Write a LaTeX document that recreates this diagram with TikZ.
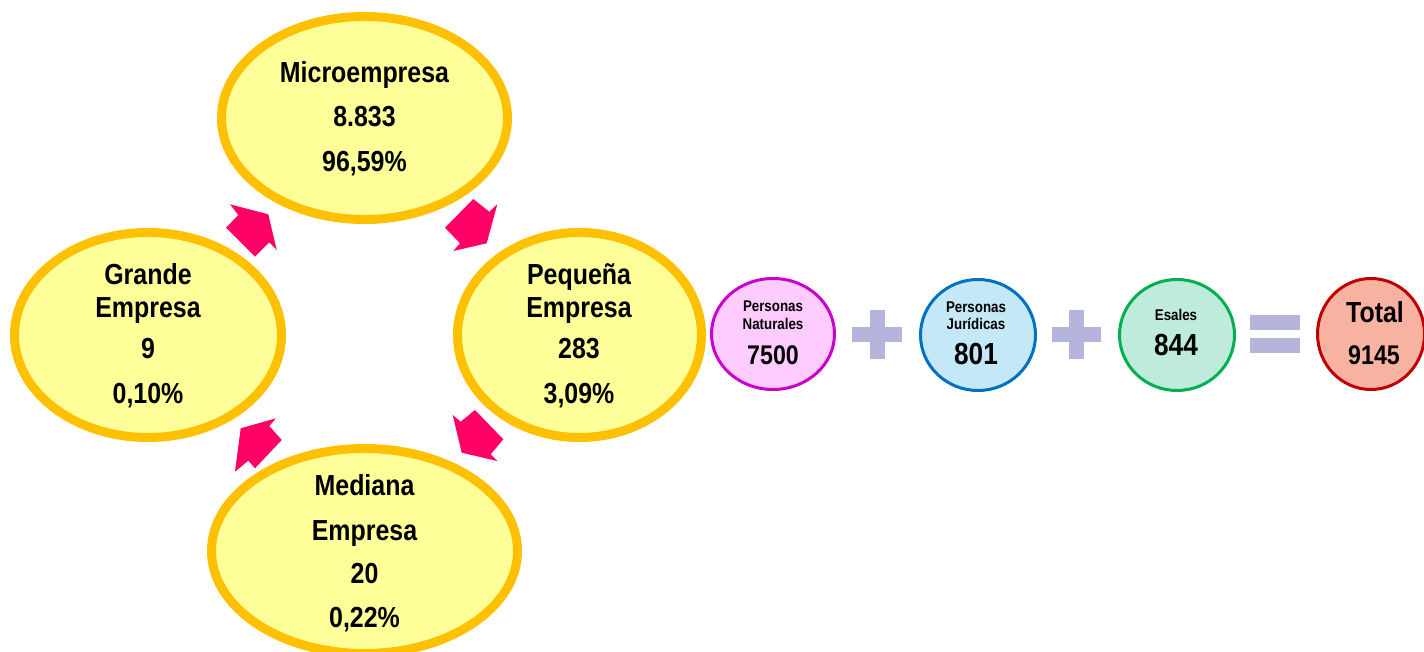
\documentclass[tikz,border=0pt]{standalone}
\usepackage{fontspec}
\newfontfamily\lbl{Liberation Sans}[FakeStretch=0.86]
\usetikzlibrary{shapes.geometric}
\definecolor{yfill}{HTML}{FFFF99}
\definecolor{yline}{HTML}{FFC000}
\definecolor{arr}{HTML}{FF0066}
\definecolor{pfill}{HTML}{FFCCFF}
\definecolor{pline}{HTML}{CC00CC}
\definecolor{bfill}{HTML}{C4E8F8}
\definecolor{bline}{HTML}{0070C0}
\definecolor{gfill}{HTML}{BFEBDD}
\definecolor{gline}{HTML}{00B050}
\definecolor{tfill}{HTML}{F8B2A2}
\definecolor{tline}{HTML}{C00000}
\definecolor{lav}{HTML}{B4B4DC}
\tikzset{
  yell/.style={ellipse, draw=yline, fill=yfill, line width=9pt, inner sep=0pt, outer sep=0pt},
  small/.style={ellipse, line width=3pt, inner sep=0pt, outer sep=0pt},
  big/.style={font=\lbl\bfseries\fontsize{29}{29}\selectfont, anchor=base, inner sep=0pt},
  tiny/.style={font=\lbl\bfseries\fontsize{15.5}{15.5}\selectfont, anchor=base, inner sep=0pt},
  blockarrow/.style={fill=arr},
  opsign/.style={fill=lav}
}
\begin{document}
\begin{tikzpicture}[x=1pt,y=-1pt]
\useasboundingbox (0,0) rectangle (1424,652);
% big ellipses
\node[yell, minimum width=286pt, minimum height=203pt] (micro) at (364.5,118) {};
\node[yell, minimum width=267pt, minimum height=205pt] (grande) at (148,335) {};
\node[yell, minimum width=244pt, minimum height=205pt] (peq) at (579.5,335) {};
\node[yell, minimum width=306pt, minimum height=205pt] (med) at (364.5,551) {};
% texts
\node[big] (m1) at (364.5,83) {Microempresa};
\node[big] (m2) at (364.5,127) {8.833};
\node[big] (m3) at (364.5,172) {96,59\%};
\node[big] (g1) at (148,285) {Grande};
\node[big] (g2) at (148,317) {Empresa};
\node[big] (g3) at (148,358) {9};
\node[big] (g4) at (148,403) {0,10\%};
\node[big] (p1) at (579,285) {Pequeña};
\node[big] (p2) at (579,317) {Empresa};
\node[big] (p3) at (579,358) {283};
\node[big] (p4) at (579,403) {3,09\%};
\node[big] (d1) at (364.5,495) {Mediana};
\node[big] (d2) at (364.5,540) {Empresa};
\node[big] (d3) at (364.5,583) {20};
\node[big] (d4) at (364.5,627) {0,22\%};
% block arrows
\fill[blockarrow] (230,204.3) -- (268.3,214.3) -- (276.7,250) -- (269.3,242.3) -- (255,256.7) -- (226,227.7) -- (238.3,215) -- cycle;
\fill[blockarrow] (473.3,199) -- (489.3,211.7) -- (497.3,204.3) -- (486.7,243.3) -- (453.3,251) -- (460,243.3) -- (445,227.7) -- cycle;
\fill[blockarrow] (276,418.3) -- (269.3,426) -- (281.7,440) -- (255,468.3) -- (248.3,460.7) -- (235,471.7) -- (240.7,428.3) -- cycle;
\fill[blockarrow] (452.7,415) -- (460.7,421.7) -- (475,410) -- (503.3,439.3) -- (490.7,454.3) -- (497.3,461) -- (461.7,452.7) -- cycle;
% small circles
\node[small, draw=pline, fill=pfill, minimum width=123pt, minimum height=111pt] (nat) at (773,334) {};
\node[small, draw=bline, fill=bfill, minimum width=115pt, minimum height=111pt] (jur) at (978,335) {};
\node[small, draw=gline, fill=gfill, minimum width=115pt, minimum height=111pt] (esa) at (1177,335) {};
\node[small, draw=tline, fill=tfill, minimum width=107pt, minimum height=111pt] (tot) at (1371,334) {};
\node[tiny] (n1) at (773,311.5) {Personas};
\node[tiny] (n2) at (773,329) {Naturales};
\node[big, font=\lbl\bfseries\fontsize{27}{27}\selectfont] (n3) at (773,364) {7500};
\node[tiny] (j1) at (976,312.5) {Personas};
\node[tiny] (j2) at (976,329.5) {Jurídicas};
\node[big, font=\lbl\bfseries\fontsize{30.5}{30.5}\selectfont] (j3) at (976,364) {801};
\node[tiny] (e1) at (1176,320) {Esales};
\node[big, font=\lbl\bfseries\fontsize{30.5}{30.5}\selectfont] (e2) at (1176,355) {844};
\node[big] (t1) at (1375,323) {Total};
\node[big, font=\lbl\bfseries\fontsize{27}{27}\selectfont] (t2) at (1374,364) {9145};
% operators
\fill[opsign] (852,327) rectangle (902,342);
\fill[opsign] (869.5,310) rectangle (884.5,359);
\fill[opsign] (1052,327) rectangle (1101,342);
\fill[opsign] (1069,310) rectangle (1084,359);
\fill[opsign] (1250,315) rectangle (1300,330);
\fill[opsign] (1250,338) rectangle (1300,353);
\end{tikzpicture}
\end{document}
